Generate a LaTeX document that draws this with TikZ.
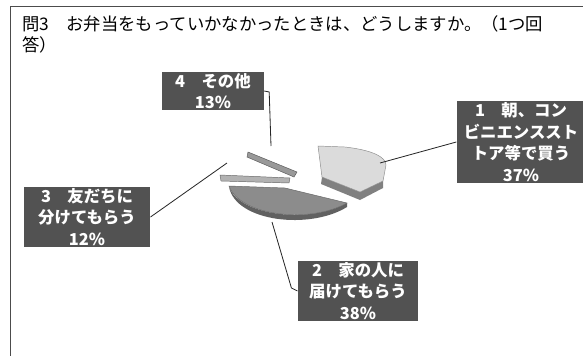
\documentclass[tikz,border=0pt]{standalone}
\usepackage{fontspec}
\setmainfont{Noto Sans CJK JP}
\tikzset{
  lbl/.style={fill=black!68,text=white,align=center,inner sep=1pt,
    font=\fontsize{14}{18.5}\selectfont\bfseries},
  lead/.style={draw=black!85,line width=0.7pt},
  ttl/.style={anchor=base west,inner sep=0pt,font=\fontsize{14.8}{18}\selectfont}
}
\begin{document}
\begin{tikzpicture}[x=0.03cm,y=-0.03cm]
\useasboundingbox (0,0) rectangle (583,355);
\draw[black!70,line width=0.8pt] (10,360) -- (10,6) -- (590,6);
\node[ttl] (t1) at (22,30) {問3　お弁当をもっていかなかったときは、どうしますか。（1つ回};
\node[ttl] (t2) at (22,51) {答）};
\fill[black!50] (322,177) -- (360,192) -- (383,181) -- (383,188) -- (360,200) -- (321,184) -- cycle;
\filldraw[fill=black!14,draw=black!45] (318,146) -- (345,147) .. controls (372,150) and (386,157) .. (386,165) -- (383,181) -- (360,192) -- (322,177) -- cycle;
\fill[black!62] (229,187) .. controls (236,222) and (310,230) .. (347,207) -- (347,203) .. controls (310,224) and (240,216) .. (229,187) -- cycle;
\filldraw[fill=black!45,draw=black!60] (229,186) -- (285,188) -- (347,203) .. controls (310,224) and (240,216) .. (229,186) -- cycle;
\filldraw[fill=black!30,draw=black!60] (220,175) -- (290,178) -- (289,183) -- (221,181) -- cycle;
\filldraw[fill=black!40,draw=black!65] (248,152) -- (297,172) -- (294,177) -- (247,157) -- cycle;
\node[lbl,minimum width=87] (b4) at (213,91) {4　その他\\13\%};
\node[lbl,minimum width=110] (b1) at (521,142) {1　朝、コン\\ビニエンススト\\トア等で買う\\37\%};
\node[lbl,minimum width=108] (b3) at (87,217) {3　友だちに\\分けてもらう\\12\%};
\node[lbl,minimum width=103] (b2) at (358,291) {2　家の人に\\届けてもらう\\38\%};
\coordinate (p4) at (271,146);
\coordinate (p1) at (380,163);
\coordinate (p3) at (227,163);
\coordinate (p2) at (272,222);
\draw[lead] (b4.east) -- ++(5,1) -- (p4);
\draw[lead] (b1.west) -- (p1);
\draw[lead] (b3.east) -- (p3);
\draw[lead] (b2.west) -- ++(-6,-3) -- (p2);
\end{tikzpicture}
\end{document}
